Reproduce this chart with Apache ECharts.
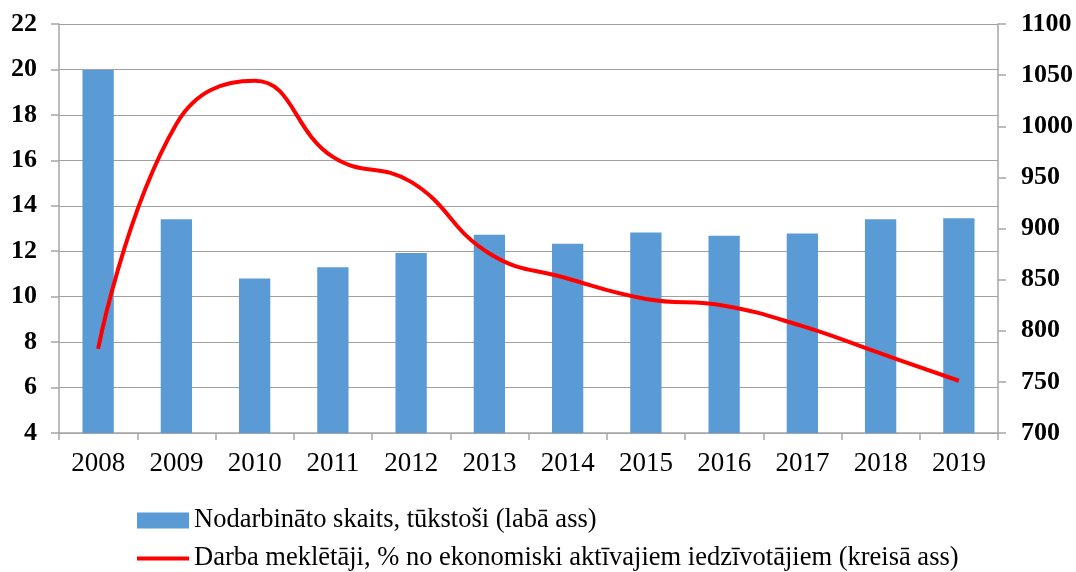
<!DOCTYPE html>
<html>
<head>
<meta charset="utf-8">
<script src="https://cdn.jsdelivr.net/npm/echarts@6/dist/echarts.min.js"></script>
<style>
html,body{margin:0;padding:0;background:#fff;}
#chart{width:1076px;height:572px;}
</style>
</head>
<body>
<div id="chart"></div>
<script>
const years = ['2008','2009','2010','2011','2012','2013','2014','2015','2016','2017','2018','2019'];
const employed = [1055, 909, 851, 862, 876, 894, 885, 896, 893, 895, 909, 910];
const jobseekers = [7.7, 17.6, 19.5, 16.15, 15.05, 11.9, 10.8, 9.9, 9.6, 8.7, 7.5, 6.3];
const barName = 'Nodarbināto skaits, tūkstoši (labā ass)';
const lineName = 'Darba meklētāji, % no ekonomiski aktīvajiem iedzīvotājiem (kreisā ass)';

const FONT = '"Liberation Serif", "Times New Roman", serif';
const axisGray = '#a6a6a6';
const legendText = {fontFamily: FONT, fontSize: 26.5, color: '#000'};
const chart = echarts.init(document.getElementById('chart'));
chart.setOption({
  animation: false,
  backgroundColor: '#fff',
  grid: {left: 59, right: 78, top: 24, bottom: 139, containLabel: false},
  legend: [
    {
      orient: 'vertical', left: 137, top: 507,
      itemWidth: 52, itemHeight: 16, padding: 0,
      textStyle: legendText,
      data: [{name: barName, icon: 'rect'}]
    },
    {
      orient: 'vertical', left: 137, top: 545,
      itemWidth: 52, itemHeight: 4, padding: 0,
      textStyle: legendText,
      data: [{name: lineName, icon: 'rect'}]
    }
  ],
  xAxis: {
    type: 'category',
    data: years,
    boundaryGap: true,
    axisLine: {lineStyle: {color: axisGray, width: 1.5}},
    axisTick: {show: true, length: 7, lineStyle: {color: axisGray, width: 1.5}},
    axisLabel: {fontFamily: FONT, fontSize: 27, color: '#000', margin: 17}
  },
  yAxis: [
    {
      type: 'value', position: 'left', min: 4, max: 22, interval: 2,
      axisLine: {show: true, lineStyle: {color: axisGray, width: 1.5}},
      axisTick: {show: true, length: 8, lineStyle: {color: axisGray, width: 1.5}},
      splitLine: {show: true, lineStyle: {color: '#a0a0a0', width: 1.2}},
      axisLabel: {fontFamily: FONT, fontSize: 26, fontWeight: 'bold', color: '#000', margin: 22}
    },
    {
      type: 'value', position: 'right', min: 700, max: 1100, interval: 50,
      axisLine: {show: true, lineStyle: {color: axisGray, width: 1.5}},
      axisTick: {show: true, length: 8, lineStyle: {color: axisGray, width: 1.5}},
      splitLine: {show: false},
      axisLabel: {fontFamily: FONT, fontSize: 26, fontWeight: 'bold', color: '#000', margin: 23,
                  formatter: function (v) { return String(v); }}
    }
  ],
  series: [
    {
      name: barName,
      type: 'bar',
      yAxisIndex: 1,
      data: employed,
      barWidth: '40%',
      itemStyle: {color: '#5b9bd5'}
    },
    {
      name: lineName,
      type: 'line',
      yAxisIndex: 0,
      data: jobseekers,
      smooth: 0.45,
      symbol: 'none',
      lineStyle: {color: '#ff0000', width: 4},
      itemStyle: {color: '#ff0000'}
    }
  ]
});
</script>
</body>
</html>
